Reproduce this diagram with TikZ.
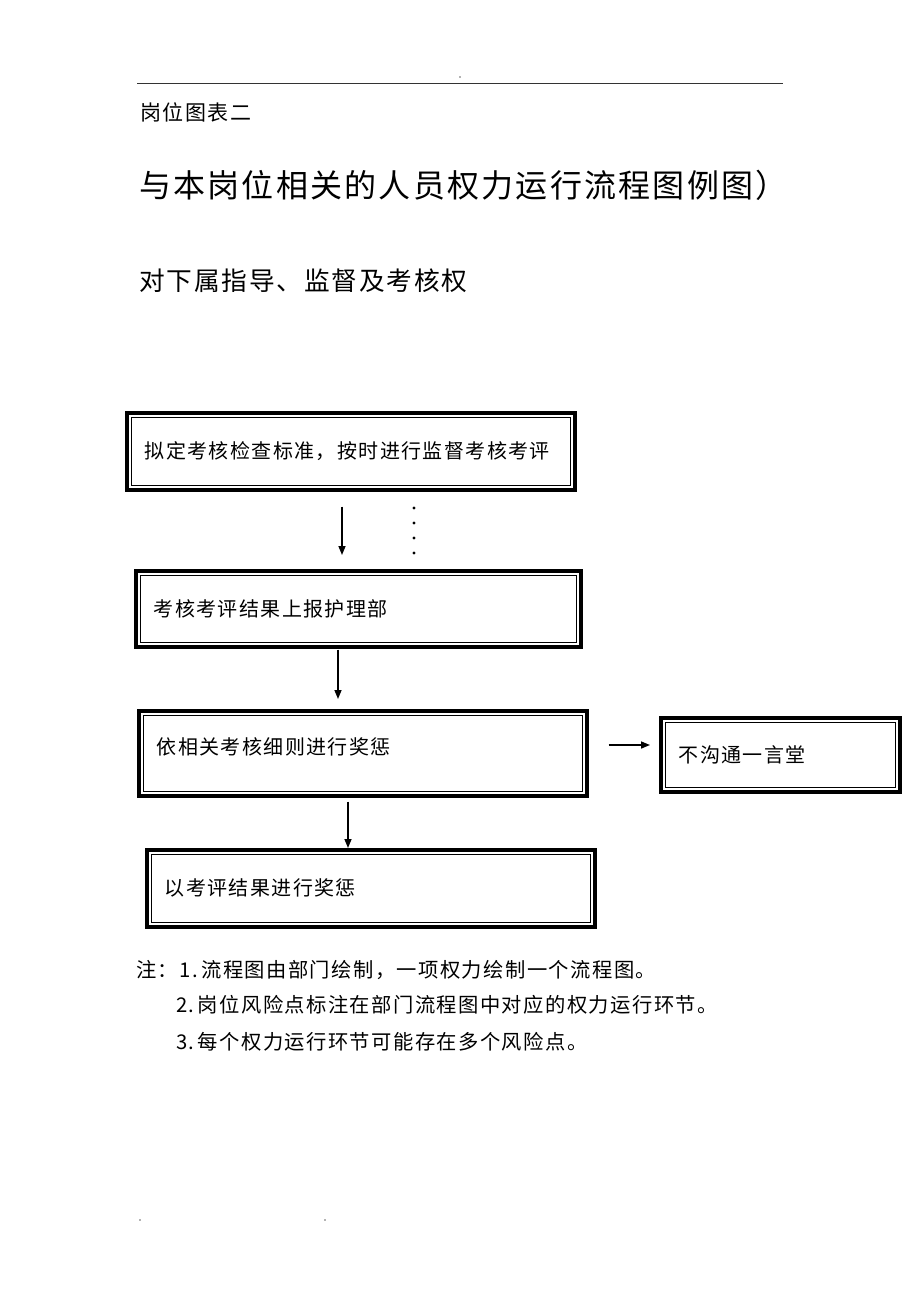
\documentclass[tikz,border=0pt]{standalone}
\usepackage{fontspec}
\setmainfont[LetterSpace=7]{Noto Sans CJK SC}
\usetikzlibrary{arrows.meta,calc}
\tikzset{
  dbox/.style={draw, line width=3.5pt, anchor=north west, inner xsep=18pt, inner ysep=0pt,
    align=left, font=\fontsize{20}{24}\selectfont,
    path picture={\draw[line width=0.8pt]
      ([shift={(4.5pt,-4.5pt)}]path picture bounding box.north west) rectangle
      ([shift={(-4.5pt,4.5pt)}]path picture bounding box.south east);}},
  arr/.style={line width=1.5pt, -{Triangle[length=9pt,width=7pt]}},
  txt/.style={anchor=west, inner sep=0pt}
}
\begin{document}
\begin{tikzpicture}[x=1pt,y=-1pt]
\useasboundingbox[fill=white] (0,0) rectangle (920,1302);
% header rule and tiny dots
\draw[line width=1pt, black!80] (137,83) -- (783,83);
\fill[black!60] (460,77) circle (0.8);
\fill[black!60] (140,1220) circle (0.8);
\fill[black!60] (325,1220) circle (0.8);
% texts
\node[txt, font=\fontsize{21}{25}\selectfont] (hdr) at (140,112) {岗位图表二};
\node[txt, font=\fontsize{32}{38}\selectfont] (title) at (139,185) {与本岗位相关的人员权力运行流程图例图）};
\node[txt, font=\fontsize{25.7}{31}\selectfont] (sub) at (139,281) {对下属指导、监督及考核权};
% boxes
\node[dbox, text width=412pt, minimum width=448pt, minimum height=77pt] (b1) at (125,411) {拟定考核检查标准，按时进行监督考核考评};
\node[dbox, text width=409pt, minimum width=445pt, minimum height=76pt] (b2) at (134,569) {考核考评结果上报护理部};
\node[dbox, text width=412pt, minimum width=448pt, minimum height=85pt, text depth=14pt] (b3) at (137,709) {依相关考核细则进行奖惩};
\node[dbox, text width=203pt, minimum width=239pt, minimum height=74pt] (b4) at (659,716) {不沟通一言堂};
\node[dbox, text width=412pt, minimum width=448pt, minimum height=77pt] (b5) at (145,848) {以考评结果进行奖惩};
% arrow guide coordinates
\coordinate (xa) at (342,0);
\coordinate (xb) at (338,0);
\coordinate (xc) at (348,0);
\coordinate (ya) at (0,745);
\draw[arr, shorten <=15pt, shorten >=14pt] (b1.south -| xa) -- (b2.north -| xa);
\draw[arr, shorten <=1pt, shorten >=10pt] (b2.south -| xb) -- (b3.north -| xb);
\draw[arr, shorten <=4pt, shorten >=0pt] (b3.south -| xc) -- (b5.north -| xc);
\draw[arr, shorten <=20pt, shorten >=9pt] (b3.east |- ya) -- (b4.west |- ya);
% dotted marks
\foreach \yy in {508,523,538,553} \fill (414,\yy) circle (1.7);
% notes
\node[txt, font=\fontsize{20.3}{24}\selectfont] (n1) at (136,970) {注：1.\,流程图由部门绘制，一项权力绘制一个流程图。};
\node[txt, font=\fontsize{20.3}{24}\selectfont] (n2) at (176,1005) {2.\,岗位风险点标注在部门流程图中对应的权力运行环节。};
\node[txt, font=\fontsize{20.3}{24}\selectfont] (n3) at (176,1042) {3.\,每个权力运行环节可能存在多个风险点。};
\end{tikzpicture}
\end{document}
